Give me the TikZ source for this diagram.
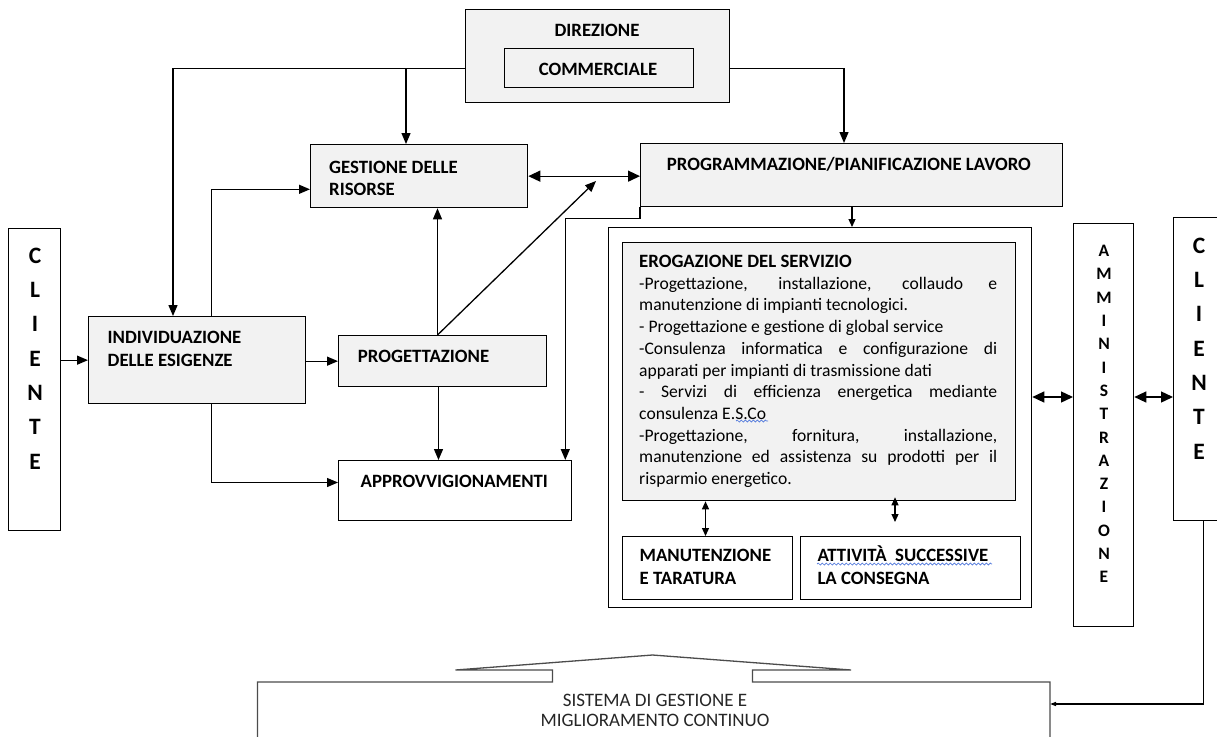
\documentclass[tikz,border=0pt]{standalone}
\usepackage{fontspec}
\setmainfont{Carlito}
\usetikzlibrary{arrows.meta,calc,decorations.pathmorphing}
\definecolor{boxgrey}{HTML}{F2F2F2}
\definecolor{wavyblue}{RGB}{80,120,220}
\newcommand{\fsr}{\fontsize{17.6}{21.7}\selectfont}
\newcommand{\fsb}{\fontsize{18.8}{21.7}\selectfont}
\newcommand{\fsis}{\fontsize{19}{21.7}\selectfont}
\newcommand{\fcl}{\fontsize{23.5}{26}\selectfont}
\newcommand{\famm}{\fontsize{17.5}{18}\selectfont}
\begin{document}
\begin{tikzpicture}[x=1pt,y=-1pt,
  gbox/.style={draw, line width=1.3pt, fill=boxgrey, inner sep=0pt, anchor=north west},
  wbox/.style={draw, line width=1.3pt, fill=white, inner sep=0pt, anchor=north west},
  lbl/.style={font=\bfseries\fsb, inner sep=0pt, anchor=base west},
  clet/.style={font=\bfseries\fcl, inner sep=0pt, anchor=base},
  alet/.style={font=\bfseries\famm, inner sep=0pt, anchor=base},
  arr/.style={line width=1.3pt, -{Triangle[length=11pt,width=9pt]}},
  sarr/.style={line width=1.2pt, -{Triangle[length=8pt,width=7pt]}},
  darr/.style={line width=1.3pt, {Triangle[length=12pt,width=11pt]}-{Triangle[length=12pt,width=11pt]}},
  sdarr/.style={line width=1.2pt, {Triangle[length=8pt,width=7pt]}-{Triangle[length=8pt,width=7pt]}},
  wavy/.style={wavyblue, line width=0.7pt, decorate, decoration={snake, amplitude=1pt, segment length=4pt}},
]
\path[use as bounding box] (0,0) rectangle (1217,736);

% boxes
\node[gbox, minimum width=264pt, minimum height=93pt] (dir) at (465,9) {};
\node[gbox, minimum width=189pt, minimum height=39pt] (comm) at (504,48) {};
\node[gbox, minimum width=217pt, minimum height=63pt] (ges) at (310,144) {};
\node[gbox, minimum width=422pt, minimum height=63pt] (prog) at (640,143) {};
\node[wbox, minimum width=52pt, minimum height=302pt] (cliL) at (8,228) {};
\node[gbox, minimum width=217pt, minimum height=87pt] (ind) at (88,316) {};
\node[gbox, minimum width=208pt, minimum height=51pt] (pgt) at (338,335) {};
\node[wbox, minimum width=233pt, minimum height=60pt] (app) at (338,460) {};
\node[wbox, minimum width=423pt, minimum height=380pt] (outer) at (608,227) {};
\node[gbox, minimum width=393pt, minimum height=258pt] (erog) at (622,242) {};
\node[wbox, minimum width=170pt, minimum height=63pt] (man) at (622,536) {};
\node[wbox, minimum width=220pt, minimum height=63pt] (att) at (800,536) {};
\node[wbox, minimum width=60pt, minimum height=403pt] (amm) at (1073,223) {};
\node[wbox, minimum width=60pt, minimum height=303pt] (cliR) at (1173,217) {};

% labels
\node[lbl, anchor=base] (tdir) at (597,36.7) {DIREZIONE};
\node[lbl, anchor=base] (tcomm) at (598,75.7) {COMMERCIALE};
\node[lbl] (tges1) at (329,173.3) {GESTIONE DELLE};
\node[lbl] (tges2) at (329,195) {RISORSE};
\node[lbl] (tprog) at (666.7,170.7) {PROGRAMMAZIONE/PIANIFICAZIONE LAVORO};
\node[lbl] (tind1) at (107.5,343.3) {INDIVIDUAZIONE};
\node[lbl] (tind2) at (107.5,366.7) {DELLE ESIGENZE};
\node[lbl] (tpgt) at (357.7,362.7) {PROGETTAZIONE};
\node[lbl] (tapp) at (360.5,487.3) {APPROVVIGIONAMENTI};
\node[lbl] (tman1) at (639.4,561.7) {MANUTENZIONE};
\node[lbl] (tman2) at (639.4,584.3) {E TARATURA};
\node[lbl] (tatt1) at (817.3,561.7) {ATTIVITÀ\ \ SUCCESSIVE};
\node[lbl] (tatt2) at (817.3,584.3) {LA CONSEGNA};

\foreach \l [count=\i from 0] in {C,L,I,E,N,T,E} {
  \node[clet] (cl\i) at (35,263.3+34.33*\i) {\l};
  \node[clet] (cr\i) at (1199,253.3+34.33*\i) {\l};
}
\foreach \l [count=\i from 0] in {A,M,M,I,N,I,S,T,R,A,Z,I,O,N,E} {
  \node[alet] (am\i) at (1104,256.7+23.29*\i) {\l};
}

\node[anchor=north west, inner sep=0pt, text width=358pt, align=justify, font=\fsr] (etext) at (639,254.3) {%
\hyphenpenalty=10000 \exhyphenpenalty=10000 \tolerance=10000 \parindent=0pt
\rule{0pt}{13pt}{\bfseries\fsb EROGAZIONE DEL SERVIZIO}\\
-Progettazione, installazione, collaudo e\linebreak
manutenzione di impianti tecnologici.\\
- Progettazione e gestione di global service\\
-Consulenza informatica e configurazione di\linebreak
apparati per impianti di trasmissione dati\\
- Servizi di efficienza energetica mediante\linebreak
consulenza E.S.Co\\
-Progettazione, fornitura, installazione,\linebreak
manutenzione ed assistenza su prodotti per il\linebreak
risparmio energetico.};

\draw[wavy] (736,421) -- (768,421);
\draw[wavy] (817,564) -- (992,564);

% sistema
\path[draw=black!70, fill=white, line width=1.3pt] (257.5,745) -- (257.5,682) -- (552.5,682) -- (552.5,670) -- (455.5,670) -- (652.5,655) -- (851,670) -- (752.5,670) -- (752.5,682) -- (1050,682) -- (1050,745);
\node[font=\fsis, text=black!85, inner sep=0pt, anchor=base] (s1) at (655,706) {SISTEMA DI GESTIONE E};
\node[font=\fsis, text=black!85, inner sep=0pt, anchor=base] (s2) at (655,726.7) {MIGLIORAMENTO CONTINUO};

% connectors
\coordinate (jA) at ($(ind.north west)+(85,0)$);
\coordinate (jB) at ($(ges.north west)+(96,0)$);
\coordinate (jC) at ($(prog.north west)+(204,0)$);
\draw[arr] (dir.west |- comm.center) -| (jA);
\draw[arr] (jB |- comm.center) -- (jB);
\draw[arr] (dir.east |- comm.center) -| (jC);
\draw[darr] (ges.east) -- (prog.west |- ges.east);
\draw[arr] (cliL.east |- ind.west) -- (ind.west);
\coordinate (jD) at ($(ind.north west)+(123.5,0)$);
\coordinate (jE) at ($(ges.south west)+(0,-19)$);
\draw[arr] (jD) |- (jE);
\coordinate (jF) at ($(ind.south west)+(123.5,0)$);
\coordinate (jG) at ($(app.north west)+(0,22.5)$);
\draw[arr] (jF) |- (jG);
\draw[arr] (ind.east |- pgt.west) -- (pgt.west);
\coordinate (jH) at ($(pgt.north west)+(99.5,0)$);
\draw[arr] (jH) -- (jH |- ges.south);
\coordinate (jI) at ($(pgt.south west)+(100.5,0)$);
\draw[arr] (jI) -- (jI |- app.north);
\coordinate (jJ) at (596,181);
\draw[arr] (jH) -- (jJ);
\coordinate (jK) at ($(prog.south west)+(0,11)$);
\coordinate (jL) at ($(app.north east)+(-7,0)$);
\draw[arr] (prog.south west) -- (jK) -| (jL);
\coordinate (jM) at ($(prog.south west)+(212,0)$);
\draw[sarr] (jM) -- (jM |- outer.north);
\coordinate (jN) at ($(erog.south west)+(83.5,0)$);
\draw[sdarr] (jN) -- (jN |- man.north);
\coordinate (jO) at ($(erog.south west)+(273,-4)$);
\coordinate (jP) at ($(att.north west)+(95,-14)$);
\draw[sdarr] (jO) -- (jP);
\coordinate (jQ) at ($(outer.north east)+(0,170)$);
\draw[darr] (jQ) -- (jQ -| amm.west);
\draw[darr] (jQ -| amm.east) -- (jQ -| cliR.west);
\coordinate (jR) at ($(cliR.south west)+(30.5,0)$);
\coordinate (sisR) at (1050,704);
\draw[line width=1.3pt, -{Triangle[length=6pt,width=4pt]}] (jR) |- (sisR);
\end{tikzpicture}
\end{document}
